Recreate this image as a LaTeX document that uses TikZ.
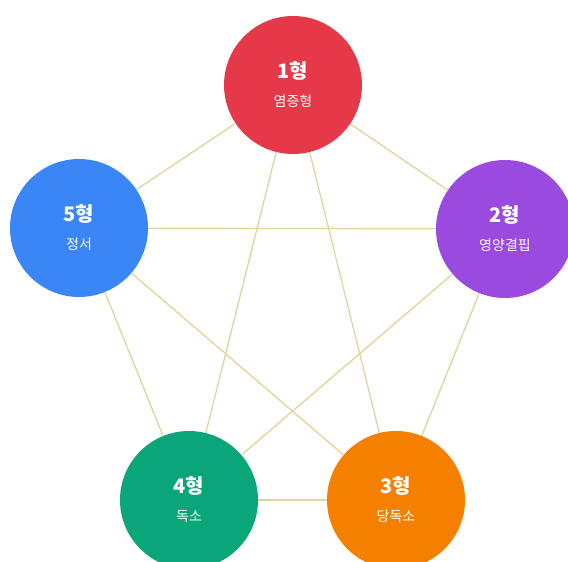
\documentclass[tikz,border=0pt]{standalone}
\usepackage{fontspec}
\setmainfont{Noto Sans CJK KR}
\usepackage{xcolor}
\definecolor{typered}{RGB}{229,56,73}
\definecolor{typepurple}{RGB}{154,74,222}
\definecolor{typeblue}{RGB}{59,134,247}
\definecolor{typegreen}{RGB}{10,166,121}
\definecolor{typeorange}{RGB}{245,128,0}
\definecolor{linktan}{RGB}{227,210,155}
\tikzset{
	typecircle/.style={
			circle, draw=none, fill=#1, minimum size=138pt, inner sep=0pt,
			text=white, align=center, font=\fontsize{14}{26}\selectfont
		},
	link/.style={draw=linktan, line width=1.3pt}
}
\newcommand{\typetitle}[1]{{\fontsize{20}{20}\selectfont\bfseries #1}}

\begin{document}
\begin{tikzpicture}[x=1pt, y=-1pt]
	\useasboundingbox (0,0) rectangle (568,562);
	\clip (0,0) rectangle (568,562);

	\node[typecircle=typered]    (t1) at (293,85)  {\typetitle{1형}\\[2pt]염증형};
	\node[typecircle=typepurple] (t2) at (505,229) {\typetitle{2형}\\[2pt]영양결핍};
	\node[typecircle=typeorange] (t3) at (396,500) {\typetitle{3형}\\[2pt]당독소};
	\node[typecircle=typegreen]  (t4) at (189,500) {\typetitle{4형}\\[2pt]독소};
	\node[typecircle=typeblue]   (t5) at (79,228)  {\typetitle{5형}\\[2pt]정서};

	% outer ring and inner star
	\foreach \a/\b in {t1/t2, t2/t3, t3/t4, t4/t5, t5/t1, t1/t3, t1/t4, t2/t4, t2/t5, t3/t5}
		\draw[link] (\a) -- (\b);
\end{tikzpicture}
\end{document}
